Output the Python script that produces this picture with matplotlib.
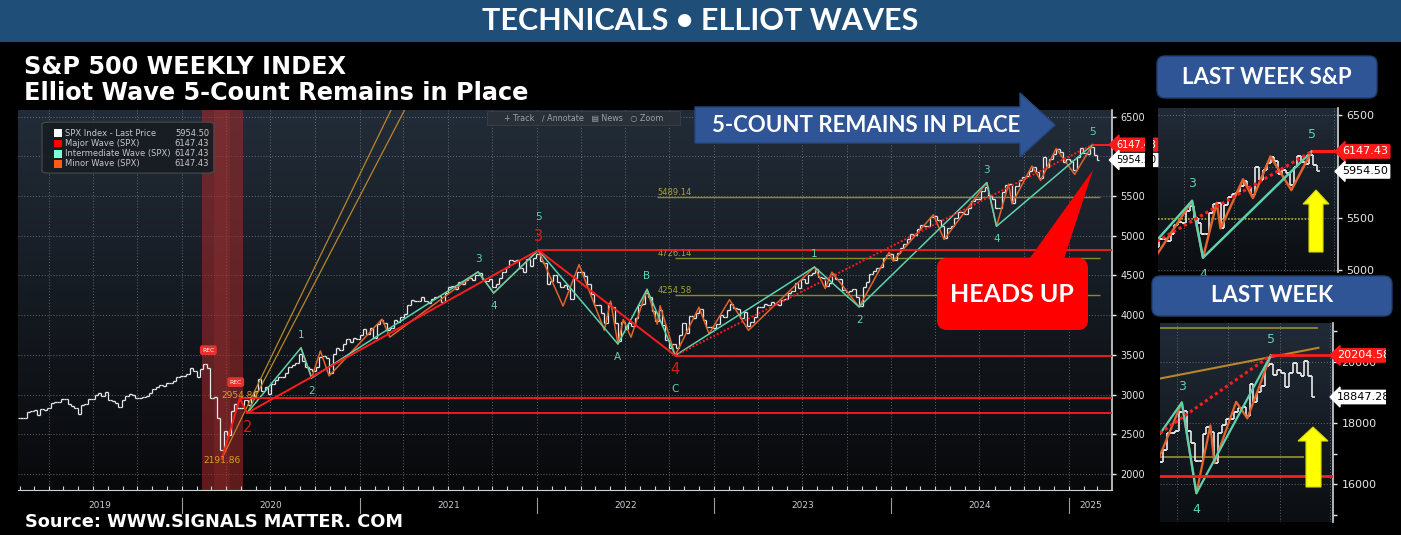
import numpy as np
import pandas as pd
import matplotlib
matplotlib.use('Agg')
import matplotlib.pyplot as plt
import matplotlib.dates as mdates
from matplotlib.colors import LinearSegmentedColormap
from matplotlib.patches import Rectangle, FancyBboxPatch, Polygon
from matplotlib.transforms import Affine2D, blended_transform_factory

W, H = 1401, 535

# ---------------- data ----------------
# S&P 500 weekly closes (Fridays), Feb 2019 - Feb 2025
spx_first_week = '2019-02-01'
spx_2019 = [2707, 2708, 2776, 2793, 2804, 2743, 2822, 2801, 2834, 2893, 2907, 2905, 2940,
            2946, 2881, 2860, 2826, 2752, 2873, 2887, 2950, 2942, 2990, 3014, 2977, 3026,
            2932, 2919, 2889, 2847, 2926, 2979, 3007, 2992, 2962, 2952, 2970, 2986, 3023,
            3067, 3093, 3120, 3110, 3141, 3146, 3169, 3221, 3240]
spx_2020 = [3235, 3265, 3330, 3295, 3226, 3328, 3380, 3338, 2954, 2972, 2711, 2305, 2541,
            2489, 2790, 2875, 2837, 2831, 2930, 2864, 2955, 3044, 3194, 3041, 3098, 3009,
            3130, 3185, 3225, 3216, 3271, 3351, 3373, 3397, 3508, 3427, 3341, 3319, 3298,
            3348, 3477, 3484, 3465, 3270, 3509, 3585, 3558, 3638, 3699, 3663, 3709, 3703]
spx_2021 = [3756, 3825, 3768, 3841, 3714, 3887, 3934, 3907, 3811, 3842, 3943, 3913, 3975,
            4020, 4129, 4185, 4180, 4181, 4233, 4174, 4156, 4204, 4230, 4247, 4166, 4281,
            4352, 4370, 4327, 4412, 4395, 4437, 4468, 4442, 4509, 4535, 4459, 4433, 4455,
            4357, 4391, 4471, 4545, 4605, 4697, 4683, 4698, 4595, 4538, 4712, 4620, 4726, 4766]
spx_2022 = [4677, 4663, 4398, 4432, 4500, 4419, 4349, 4385, 4329, 4204, 4463, 4543,
            4546, 4488, 4393, 4272, 4132, 4123, 4024, 3901, 4158, 4109, 3901, 3675, 3912,
            3825, 3899, 3863, 3962, 4130, 4145, 4280, 4228, 4058, 3924, 4067, 3873, 3693, 3586,
            3640, 3583, 3752, 3901, 3771, 3993, 3965, 4026, 4072, 3934, 3852, 3845, 3840]
spx_2023 = [3895, 3999, 3973, 4071, 4136, 4090, 4079, 3970, 4046, 3862, 3917, 3971, 4109,
            4105, 4138, 4133, 4169, 4136, 4124, 4192, 4205, 4282, 4299, 4410, 4348, 4450,
            4399, 4505, 4536, 4582, 4478, 4464, 4370, 4406, 4516, 4457, 4450, 4320, 4288,
            4308, 4327, 4224, 4117, 4358, 4415, 4514, 4559, 4595, 4604, 4719, 4755, 4770]
spx_2024 = [4697, 4784, 4840, 4891, 4959, 5027, 5006, 5089, 5137, 5124, 5117, 5234, 5254,
            5204, 5123, 4967, 5100, 5128, 5223, 5303, 5305, 5278, 5347, 5432, 5465, 5460,
            5567, 5615, 5505, 5459, 5346, 5344, 5554, 5635, 5648, 5408, 5626, 5703, 5738,
            5751, 5815, 5864, 5808, 5729, 5995, 5870, 5969, 6032, 6090, 6051, 5931, 5971]
spx_2025 = [5942, 5827, 5997, 6101, 6041, 6026, 6115, 6013, 5954.50]
spx_close = spx_2019 + spx_2020 + spx_2021 + spx_2022 + spx_2023 + spx_2024 + spx_2025
spx_last = 5954.50
spx_top = 6147.43

# Nasdaq Composite weekly closes for the "LAST WEEK" inset
ndx_first_week = '2024-05-24'
ndx_close = [16920, 16735, 17133, 17689, 17689, 17733, 18353, 18398, 17727, 17358, 16776,
             16745, 17631, 17878, 17714, 16691, 17684, 17948, 18119, 18138, 18343, 18490,
             18519, 18240, 19287, 18680, 19004, 19218, 19860, 19927, 19573, 19722, 19622,
             19162, 19630, 19954, 19627, 19523, 20027, 19524, 18847.28]
ndx_last = 18847.28
ndx_top = 20204.58

# Elliott wave pivots (date, level)
major_pivots = [('2020-03-23', 2191.86), ('2020-04-29', 2954.84), ('2020-05-14', 2766.64),
                ('2022-01-04', 4818.62), ('2022-10-13', 3491.58)]
major_labels = ['2191.86', '2954.84', '2', '3', '4']
major_wave5 = [('2022-10-13', 3491.58), ('2025-02-19', 6147.43)]

inter_pivots = [('2020-05-14', 2766.64), ('2020-09-02', 3588.11), ('2020-09-24', 3209.45),
                ('2021-09-02', 4545.85), ('2021-10-04', 4278.94), ('2022-01-04', 4818.62),
                ('2022-06-17', 3636.87), ('2022-08-16', 4325.28), ('2022-10-13', 3491.58),
                ('2023-07-27', 4607.07), ('2023-10-27', 4103.78), ('2024-07-16', 5669.67),
                ('2024-08-05', 5119.26), ('2025-02-19', 6147.43)]
inter_labels = ['', '1', '2', '3', '4', '5', 'A', 'B', 'C', '1', '2', '3', '4', '5']

minor_pivots = [('2020-09-02', 3588.11), ('2020-09-24', 3209.45), ('2020-10-12', 3549.85),
                ('2020-10-30', 3233.94), ('2021-02-16', 3950.43), ('2021-03-04', 3723.34),
                ('2021-09-02', 4545.85), ('2021-10-04', 4278.94), ('2022-01-04', 4818.62),
                ('2022-02-24', 4114.65), ('2022-03-29', 4637.30), ('2022-05-20', 3810.32),
                ('2022-06-02', 4177.51), ('2022-06-17', 3636.87), ('2022-06-28', 3945.86),
                ('2022-07-14', 3721.56), ('2022-08-16', 4325.28), ('2022-09-06', 3886.75),
                ('2022-09-12', 4119.28), ('2022-10-13', 3491.58), ('2022-12-01', 4100.51),
                ('2022-12-22', 3764.49), ('2023-02-02', 4195.44), ('2023-03-13', 3808.86),
                ('2023-07-27', 4607.07), ('2023-08-18', 4335.31), ('2023-09-01', 4541.25),
                ('2023-10-27', 4103.78), ('2023-12-28', 4793.30), ('2024-01-05', 4682.11),
                ('2024-03-28', 5264.85), ('2024-04-19', 4953.56), ('2024-07-16', 5669.67),
                ('2024-08-05', 5119.26), ('2024-08-30', 5651.62), ('2024-09-06', 5402.62),
                ('2024-10-17', 5878.46), ('2024-11-04', 5696.51), ('2024-12-06', 6099.97),
                ('2025-01-13', 5773.31), ('2025-02-19', 6147.43)]

fan_lines = [[('2020-03-23', 2191.86), ('2021-03-07', 6590)],
             [('2020-05-14', 2766.64), ('2021-04-04', 6590)]]
fib_levels = [5489.14, 4726.14, 4254.58]
fib_starts = ['2022-09-06', '2022-10-13', '2022-10-13']
fib_end = '2025-03-07'
recession = ('2020-02-11', '2020-05-05')

ndx_inter_pivots = [('2024-06-01', 17650), ('2024-07-10', 18671.07),
                    ('2024-08-05', 15708.54), ('2024-12-16', 20204.58)]
ndx_inter_labels = ['', '3', '4', '5']
ndx_minor_pivots = [('2024-05-31', 16900), ('2024-07-10', 18671.07), ('2024-08-05', 15708.54),
                    ('2024-08-30', 17920), ('2024-09-06', 16690), ('2024-10-15', 18690),
                    ('2024-11-04', 18150), ('2024-12-16', 20204.58)]
ndx_major_dotted = [('2024-06-01', 17670), ('2024-12-16', 20204.58)]
ndx_support = 16260
ndx_fib_levels = [21100, 16900]
ndx_fib_ends = ['2025-03-11', '2025-02-14']
ndx_trend = [('2024-06-01', 19450), ('2025-03-11', 20453)]

legend_rows = [('SPX Index - Last Price', '5954.50', '#ffffff'),
               ('Major Wave (SPX)', '6147.43', '#ff0000'),
               ('Intermediate Wave (SPX)', '6147.43', '#7fffd4'),
               ('Minor Wave (SPX)', '6147.43', '#ff5a1a')]

# ---------------- style ----------------
BAR = '#e8e8e8'
RED = '#ff1c1c'
TEAL = '#5cd3ad'
ORANGE = '#e2632b'
FAN = '#b8862b'
FIB = '#8a8a2a'
GRID = '#7d8892'
AXC = '#cfd3d6'
BLUE = '#2f5597'

fig = plt.figure(figsize=(W / 100, H / 100), dpi=100, facecolor='black')
PX = Affine2D().scale(1.0 / W, -1.0 / H).translate(0, 1) + fig.transFigure


def px_axes(x0, y0, x1, y1):
    return fig.add_axes([x0 / W, 1 - y1 / H, (x1 - x0) / W, (y1 - y0) / H])


def gradient(x0, y0, x1, y1, top, bottom):
    bg = px_axes(x0, y0, x1, y1)
    bg.set_zorder(-5)
    cmap = LinearSegmentedColormap.from_list('bg', [bottom, top])
    bg.imshow(np.linspace(0, 1, 256).reshape(-1, 1), cmap=cmap, aspect='auto',
              origin='lower', extent=[0, 1, 0, 1])
    bg.axis('off')


def unpack(pts):
    d = pd.to_datetime([p[0] for p in pts])
    v = np.array([p[1] for p in pts], float)
    return d, v


def draw_bars(ax, first, closes, lw, ms):
    dates = pd.date_range(first, periods=len(closes), freq='W-FRI')
    c = np.asarray(closes, float)
    o = np.r_[c[0], c[:-1]]
    ax.vlines(dates, np.minimum(o, c), np.maximum(o, c), color=BAR, lw=lw, zorder=3)
    ax.plot(dates, c, ls='none', marker=1, ms=ms, mew=lw, color=BAR, zorder=3)
    ax.plot(dates, o, ls='none', marker=0, ms=ms, mew=lw, color=BAR, zorder=3)


def label_pivots(ax, pts, labels, color, fs, off_px, stacked=(), stack_px=33):
    d, v = unpack(pts)
    for i, lab in enumerate(labels):
        if not lab:
            continue
        nb = [v[j] for j in (i - 1, i + 1) if 0 <= j < len(v)]
        sign = 1 if v[i] >= max(nb) else -1
        off = stack_px if d[i] in stacked else off_px
        ax.annotate(lab, xy=(d[i], v[i]), xytext=(0, sign * off * 0.72),
                    textcoords='offset points', ha='center', va='center',
                    fontsize=fs, color=color, zorder=8)


def style(ax, xlim, ylim, yticks, ylabels, fs, hgrid, bottom=True):
    ax.set_facecolor('none')
    ax.set_xlim(pd.Timestamp(xlim[0]), pd.Timestamp(xlim[1]))
    ax.set_ylim(*ylim)
    for q in pd.date_range(xlim[0], xlim[1], freq='QS'):
        ax.axvline(q, color=GRID, lw=0.7, ls=(0, (1, 2)), alpha=0.7, zorder=1)
    for g in hgrid:
        ax.axhline(g, color=GRID, lw=0.7, ls=(0, (1, 2)), alpha=0.7, zorder=1)
    ax.spines['top'].set_visible(False)
    ax.spines['left'].set_visible(False)
    ax.spines['bottom'].set_visible(bottom)
    ax.spines['bottom'].set_color(AXC)
    ax.spines['right'].set_color(AXC)
    ax.spines['right'].set_linewidth(1.2)
    ax.yaxis.tick_right()
    ax.set_yticks(yticks)
    ax.set_yticklabels(ylabels)
    ax.tick_params(axis='y', colors='#e6e6e6', labelsize=fs, length=3, width=1, pad=3)
    ax.set_xticks([])


def tag(ax, value, text, fc, tc, fs):
    ax.annotate(text, xy=(1, value), xycoords=('axes fraction', 'data'), xytext=(3, 0),
                textcoords='offset points', ha='left', va='center', fontsize=fs, color=tc,
                bbox=dict(boxstyle='larrow,pad=0.15', fc=fc, ec=fc),
                annotation_clip=False, zorder=10)


def spx_waves(ax, k):
    d, v = unpack(major_pivots)
    xr = ax.get_xlim()[1]
    for di, vi in zip(d[1:], v[1:]):
        ax.hlines(vi, di, xr, color=RED, lw=1.3 * k, zorder=5)
    ax.plot(d, v, color=RED, lw=1.4 * k, zorder=5)
    d5, v5 = unpack(major_wave5)
    ax.plot(d5, v5, color=RED, lw=1.4 * k, ls=(0, (1, 1)), zorder=5)
    ax.hlines(v5[-1], d5[-1], xr, color=RED, lw=1.4 * k, zorder=5)
    di, vi = unpack(inter_pivots)
    ax.plot(di, vi, color=TEAL, lw=1.1 * k, zorder=4.5)
    dm, vm = unpack(minor_pivots)
    ax.plot(dm, vm, color=ORANGE, lw=1.1 * k, zorder=4)


# ---------------- banner and titles ----------------
fig.add_artist(Rectangle((0, 0), W, 42, transform=PX, fc='#1f4e79', ec='none'))
fig.text(700 / W, 1 - 21 / H, 'TECHNICALS \u2022 ELLIOT WAVES', family='Lato',
         fontweight='bold', fontsize=22, color='white', ha='center', va='center')
fig.text(24 / W, 1 - 67 / H, 'S&P 500 WEEKLY INDEX', fontsize=17.3, fontweight='bold',
         color='white', va='center')
fig.text(24 / W, 1 - 93 / H, 'Elliot Wave 5-Count Remains in Place', fontsize=17.3,
         fontweight='bold', color='white', va='center')
fig.text(25 / W, 1 - 522 / H, 'Source: WWW.SIGNALS MATTER. COM', fontsize=12.8,
         fontweight='bold', color='white', va='center')

# ---------------- main chart ----------------
MX = ('2019-01-28', '2025-03-31')
gradient(18, 110, 1112, 490, '#222c38', '#08090b')
ax = px_axes(18, 110, 1112, 490)
main_ticks = list(range(2000, 6501, 500))
style(ax, MX, (1798, 6584), main_ticks,
      [str(t) if t != 6000 else '' for t in main_ticks], 7, main_ticks)
ax.set_xticks(pd.date_range('2019-02-01', '2025-03-01', freq='MS'), minor=True)
ax.tick_params(axis='x', which='minor', direction='in', length=3, width=0.8, color=AXC)

r0, r1 = pd.Timestamp(recession[0]), pd.Timestamp(recession[1])
ax.axvspan(r0, r1, color='#a52a2a', alpha=0.55, lw=0, zorder=1.2)
ax.axvspan(r0 + (r1 - r0) * 0.3, r1 - (r1 - r0) * 0.3, color='#d04040', alpha=0.15, lw=0,
           zorder=1.3)

for lvl, st in zip(fib_levels, fib_starts):
    ax.hlines(lvl, pd.Timestamp(st), pd.Timestamp(fib_end), color=FIB, lw=1.0, zorder=2)
    ax.text(pd.Timestamp(fib_starts[0]), lvl, f'{lvl:.2f}', color='#a3a335', fontsize=6,
            ha='left', va='bottom', zorder=2)

draw_bars(ax, spx_first_week, spx_close, 0.9, 1.6)
for fl in fan_lines:
    fd, fv = unpack(fl)
    ax.plot(fd, fv, color=FAN, lw=0.9, zorder=3.5)
spx_waves(ax, 1.0)

stack = set(pd.to_datetime([major_pivots[3][0], major_pivots[4][0]]))
label_pivots(ax, inter_pivots, inter_labels, TEAL, 7.5, 13, stacked=stack)
md, mv = unpack(major_pivots)
for i, lab in enumerate(major_labels):
    if len(lab) > 1:
        ax.annotate(lab, xy=(md[i], mv[i]), xytext=(0, 2 if i == 1 else -1),
                    textcoords='offset points', ha='center', va='center', fontsize=6.5,
                    color='#d9a21f', zorder=8)
label_pivots(ax, major_pivots, ['', '', '2', '3', '4'], '#e01818', 10.5, 14)

tag(ax, spx_top, '6147.43', '#ff1a1a', 'white', 7)
tag(ax, spx_last, '5954.50', 'white', 'black', 7)

trans = blended_transform_factory(ax.transData, ax.transAxes)
xl = ax.get_xlim()
for yr in range(2019, 2026):
    a = max(mdates.date2num(pd.Timestamp(f'{yr}-01-01')), xl[0])
    b = min(mdates.date2num(pd.Timestamp(f'{yr + 1}-01-01')), xl[1])
    ax.text((a + b) / 2, -0.042, str(yr), transform=trans, fontsize=6.5, color='#c9ccd0',
            ha='center', va='center')
    if yr > 2019:
        ax.plot([a, a], [-0.02, -0.06], transform=trans, color='#9a9ea3', lw=0.8,
                clip_on=False)

for xf, yf in [(0.174, 0.368), (0.199, 0.284)]:
    ax.text(xf, yf, 'REC', transform=ax.transAxes, fontsize=4.3, color='white', ha='center',
            va='center', zorder=6,
            bbox=dict(boxstyle='round,pad=0.4', fc='#e8302e', ec='none'))

# legend box
ax.add_patch(FancyBboxPatch((0.022, 0.834), 0.157, 0.134, boxstyle='round,pad=0,rounding_size=0.006',
                            transform=ax.transAxes, fc='#181c22', ec='#4a4f55', lw=0.8,
                            alpha=0.92, zorder=7))
for k, (name, val, col) in enumerate(legend_rows):
    yy = 0.939 - k * 0.027
    ax.add_patch(Rectangle((0.033, yy - 0.01), 0.007, 0.02, transform=ax.transAxes,
                           fc=col, ec='none', zorder=8))
    ax.text(0.043, yy, name, transform=ax.transAxes, fontsize=6, color='#c4c8cc',
            va='center', zorder=8)
    ax.text(0.1746, yy, val, transform=ax.transAxes, fontsize=6, color='#c4c8cc',
            va='center', ha='right', zorder=8)

# toolbar
ax.add_patch(Rectangle((0.4287, 0.96), 0.176, 0.037, transform=ax.transAxes, fc='#2a3038',
                       ec='#3a4048', lw=0.6, zorder=7))
ax.text(0.517, 0.978, '+ Track   \u2215 Annotate   \u25a4 News   \u25cb Zoom',
        transform=ax.transAxes, fontsize=5.8, color='#9aa1a9', ha='center', va='center',
        zorder=8)

# ---------------- inset 1: S&P last week ----------------
I1X = ('2024-05-15', '2025-04-08')
gradient(1158, 108, 1338, 272, '#212b37', '#0b0e12')
a1 = px_axes(1158, 108, 1338, 272)
style(a1, I1X, (4981, 6568), [5000, 5500, 6000, 6500], ['5000', '5500', '', '6500'], 8,
      [5000, 5500, 6000, 6500], bottom=False)
a1.hlines(fib_levels[0], pd.Timestamp(I1X[0]), pd.Timestamp('2025-02-26'), color='#a8a82a',
          lw=1.2, ls=(0, (1, 1)), zorder=2)
draw_bars(a1, spx_first_week, spx_close, 1.2, 2.4)
spx_waves(a1, 1.6)
label_pivots(a1, inter_pivots, inter_labels, TEAL, 9, 17)
tag(a1, spx_top, '6147.43', '#ff1a1a', 'white', 8)
tag(a1, spx_last, '5954.50', 'white', 'black', 8)

# ---------------- inset 2: Nasdaq last week ----------------
I2X = ('2024-06-01', '2025-04-06')
gradient(1160, 323, 1333, 522, '#212b37', '#0b0e12')
a2 = px_axes(1160, 323, 1333, 522)
n_ticks = list(range(15000, 21001, 1000))
style(a2, I2X, (14770, 21262), n_ticks,
      [f'{t}' if t in (16000, 18000, 20000) else '' for t in n_ticks], 8,
      [16000, 18000, 20000], bottom=False)
for lvl, end in zip(ndx_fib_levels, ndx_fib_ends):
    a2.hlines(lvl, pd.Timestamp(I2X[0]), pd.Timestamp(end), color=FIB, lw=1.3, zorder=2)
a2.axhline(ndx_support, color=RED, lw=2, zorder=5)
td, tv = unpack(ndx_trend)
a2.plot(td, tv, color=FAN, lw=1.5, zorder=3.5)
draw_bars(a2, ndx_first_week, ndx_close, 1.2, 2.4)
dd, dv = unpack(ndx_major_dotted)
a2.plot(dd, dv, color=RED, lw=2.2, ls=(0, (1, 1)), zorder=5)
a2.hlines(ndx_top, dd[-1], a2.get_xlim()[1], color=RED, lw=2, zorder=5)
nd, nv = unpack(ndx_inter_pivots)
a2.plot(nd, nv, color=TEAL, lw=1.6, zorder=4.5)
od, ov = unpack(ndx_minor_pivots)
a2.plot(od, ov, color=ORANGE, lw=1.6, zorder=4)
label_pivots(a2, ndx_inter_pivots, ndx_inter_labels, TEAL, 9, 16)
tag(a2, ndx_top, '20204.58', '#ff1a1a', 'white', 8)
tag(a2, ndx_last, '18847.28', 'white', 'black', 8)

# ---------------- overlays ----------------
fig.add_artist(Rectangle((1145, 100), 8, 170, transform=PX, fc='black', ec='none', zorder=9))
fig.add_artist(Rectangle((1386, 320), 15, 215, transform=PX, fc='black', ec='none', zorder=9))

fig.add_artist(Polygon([(695, 107), (1020, 107), (1020, 93), (1055, 125), (1020, 157),
                        (1020, 143), (695, 143)], closed=True, transform=PX, fc=BLUE,
                       ec='#25477f', lw=1, zorder=10))
fig.text(866 / W, 1 - 125 / H, '5-COUNT REMAINS IN PLACE', family='Lato', fontweight='bold',
         fontsize=16, color='white', ha='center', va='center', zorder=11)

fig.add_artist(Polygon([(1027, 262), (1063, 262), (1093, 170)], closed=True, transform=PX,
                       fc='#ff0000', ec='none', zorder=10))
fig.add_artist(FancyBboxPatch((937, 258), 151, 72, boxstyle='round,pad=0,rounding_size=10',
                              transform=PX, fc='#ff0000', ec='none', zorder=10))
fig.text(1012 / W, 1 - 295 / H, 'HEADS UP', family='Lato', fontweight='bold', fontsize=18,
         color='white', ha='center', va='center', zorder=11)

for (x0, y0, w, h, cx, cy, txt) in [(1157, 56, 220, 42, 1267, 77, 'LAST WEEK S&P'),
                                    (1152, 276, 240, 40, 1272, 296, 'LAST WEEK')]:
    fig.add_artist(FancyBboxPatch((x0, y0), w, h, boxstyle='round,pad=0,rounding_size=8',
                                  transform=PX, fc=BLUE, ec='#203f70', lw=1, zorder=10))
    fig.text(cx / W, 1 - cy / H, txt, family='Lato', fontweight='bold', fontsize=16,
             color='white', ha='center', va='center', zorder=11)

for pts in [[(1309, 252), (1309, 204), (1303, 204), (1316, 190), (1329, 204), (1323, 204),
             (1323, 252)],
            [(1306, 487), (1306, 441), (1298, 441), (1313, 427), (1328, 441), (1321, 441),
             (1321, 487)]]:
    fig.add_artist(Polygon(pts, closed=True, transform=PX, fc='#ffff00', ec='#d8d800',
                           lw=0.8, zorder=10))

fig.savefig('out.png', dpi=100, facecolor='black')
